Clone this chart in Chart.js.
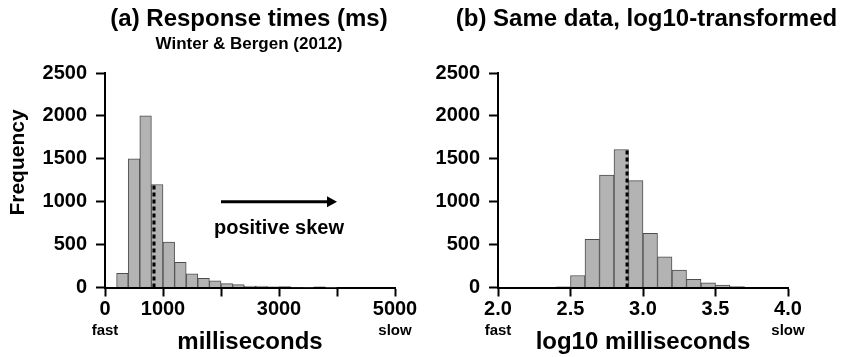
<!DOCTYPE html>
<html>
<head>
<meta charset="utf-8">
<script src="https://cdn.jsdelivr.net/npm/chart.js@4.4.1/dist/chart.umd.min.js"></script>
<style>
  html, body { margin: 0; padding: 0; background: #fff; }
  #wrap { position: relative; width: 844px; height: 357px; }
  .panel { position: absolute; top: 0; width: 422px; height: 357px; }
</style>
</head>
<body>
<div id="wrap">
  <div class="panel" style="left:0"><canvas id="msChart" width="422" height="357"></canvas></div>
  <div class="panel" style="left:422px"><canvas id="logChart" width="422" height="357"></canvas></div>
</div>
<script>
const FONT = '"Liberation Sans", Arial, Helvetica, sans-serif';

// (a) raw response times, 200 ms bins
const msBinStarts = [200, 400, 600, 800, 1000, 1200, 1400, 1600, 1800, 2000, 2200, 2400, 2600, 2800, 3000, 3200, 3400, 3600, 3800];
const msCounts = [164, 1500, 2000, 1200, 530, 292, 160, 108, 78, 45, 34, 18, 18, 9, 10, 5, 3, 8, 2];
const msBinWidth = 200;
const msTicks = [0, 1000, 2000, 3000, 4000, 5000];
const msTickLabels = ['0', '1000', '', '3000', '', '5000'];
const msMarker = 845;

// (b) same data, log10, 0.1 bins
const logBinStarts = [2.4, 2.5, 2.6, 2.7, 2.8, 2.9, 3.0, 3.1, 3.2, 3.3, 3.4, 3.5, 3.6];
const logCounts = [8, 140, 562, 1311, 1608, 1245, 632, 358, 203, 94, 54, 27, 12];
const logBinWidth = 0.1;
const logTicks = [2.0, 2.5, 3.0, 3.5, 4.0];
const logTickLabels = ['2.0', '2.5', '3.0', '3.5', '4.0'];
const logMarker = 2.89;

const freqTicks = [0, 500, 1000, 1500, 2000, 2500];

function decor(o) {
    return {
        id: 'decor',
        afterDraw(chart) {
            const { ctx, chartArea, scales: { x, y } } = chart;
            ctx.save();
            ctx.fillStyle = '#000';
            ctx.strokeStyle = '#000';
            ctx.textAlign = 'center';
            ctx.textBaseline = 'alphabetic';

            ctx.font = 'bold 24px ' + FONT;
            ctx.fillText(o.title, o.titleX, 26);
            if (o.subtitle) {
                ctx.font = 'bold 17px ' + FONT;
                ctx.fillText(o.subtitle, o.titleX, 49);
            }

            ctx.font = 'bold 15px ' + FONT;
            ctx.fillText('fast', x.getPixelForValue(x.min), chartArea.bottom + 47.5);
            ctx.fillText('slow', x.getPixelForValue(x.max), chartArea.bottom + 47.5);

            if (o.yTitle) {
                ctx.save();
                ctx.translate(23.5, 162.5);
                ctx.rotate(-Math.PI / 2);
                ctx.font = 'bold 21px ' + FONT;
                ctx.fillText(o.yTitle, 0, 0);
                ctx.restore();
            }

            if (o.arrow) {
                const x1 = x.getPixelForValue(o.arrow.from);
                const x2 = x.getPixelForValue(o.arrow.to);
                const yy = y.getPixelForValue(o.arrow.at);
                ctx.lineWidth = 3;
                ctx.beginPath();
                ctx.moveTo(x1, yy);
                ctx.lineTo(x2 - 6, yy);
                ctx.stroke();
                ctx.beginPath();
                ctx.moveTo(x2, yy);
                ctx.lineTo(x2 - 10, yy - 5.5);
                ctx.lineTo(x2 - 10, yy + 5.5);
                ctx.closePath();
                ctx.fill();
                ctx.font = 'bold 20px ' + FONT;
                ctx.fillText(o.arrow.label, x.getPixelForValue(o.arrow.labelX), y.getPixelForValue(o.arrow.labelY));
            }
            ctx.restore();
        }
    };
}

function histogram(canvasId, o) {
    const bars = o.starts.map((s, i) => ({ x: s + o.width / 2, y: o.counts[i] }));
    const hit = o.starts.findIndex(s => o.marker >= s && o.marker < s + o.width);
    const tickFont = { family: FONT, size: 20, weight: 'bold' };
    const axisGrid = { display: true, drawOnChartArea: false, drawTicks: true, tickLength: 9, tickWidth: 2, tickColor: '#000', offset: false };
    const axisBorder = { display: true, color: '#000', width: 2 };

    return new Chart(document.getElementById(canvasId), {
        type: 'bar',
        data: {
            datasets: [
                {
                    type: 'line',
                    data: [{ x: o.marker, y: 0 }, { x: o.marker, y: o.counts[hit] }],
                    borderColor: '#000',
                    borderWidth: 3,
                    borderDash: [4, 3],
                    pointRadius: 0,
                    order: 0
                },
                {
                    data: bars,
                    backgroundColor: '#b3b3b3',
                    borderColor: '#4d4d4d',
                    borderWidth: 1,
                    barPercentage: 1,
                    categoryPercentage: 1,
                    order: 1
                }
            ]
        },
        options: {
            responsive: false,
            animation: false,
            layout: { padding: { top: 73, right: o.padRight, bottom: 0, left: 0 } },
            plugins: { legend: { display: false }, tooltip: { enabled: false } },
            scales: {
                x: {
                    type: 'linear',
                    min: o.ticks[0],
                    max: o.ticks[o.ticks.length - 1],
                    offset: false,
                    afterBuildTicks: s => { s.ticks = o.ticks.map(v => ({ value: v })); },
                    afterFit: s => { s.height = 69.5; },
                    grid: axisGrid,
                    border: axisBorder,
                    ticks: {
                        autoSkip: false, maxRotation: 0, padding: 1, color: '#000', font: tickFont,
                        callback: (v, i) => o.tickLabels[i]
                    },
                    title: { display: true, text: o.xTitle, color: '#000', padding: 0, font: { family: FONT, size: 24, weight: 'bold' } }
                },
                y: {
                    min: 0,
                    max: 2500,
                    afterBuildTicks: s => { s.ticks = freqTicks.map(v => ({ value: v })); },
                    afterFit: s => { s.width = o.yWidth; },
                    grid: axisGrid,
                    border: axisBorder,
                    ticks: {
                        padding: 9, color: '#000', font: tickFont,
                        callback: (v, i) => String(freqTicks[i])
                    }
                }
            }
        },
        plugins: [decor(o)]
    });
}

histogram('msChart', {
    starts: msBinStarts, counts: msCounts, width: msBinWidth,
    ticks: msTicks, tickLabels: msTickLabels, marker: msMarker,
    xTitle: 'milliseconds', yTitle: 'Frequency',
    title: '(a) Response times (ms)', subtitle: 'Winter & Bergen (2012)', titleX: 249,
    yWidth: 105, padRight: 27,
    arrow: { from: 2000, to: 4000, at: 1000, label: 'positive skew', labelX: 3000, labelY: 620 }
});

histogram('logChart', {
    starts: logBinStarts, counts: logCounts, width: logBinWidth,
    ticks: logTicks, tickLabels: logTickLabels, marker: logMarker,
    xTitle: 'log10 milliseconds',
    title: '(b) Same data, log10-transformed', titleX: 224.5,
    yWidth: 76, padRight: 56
});
</script>
</body>
</html>
